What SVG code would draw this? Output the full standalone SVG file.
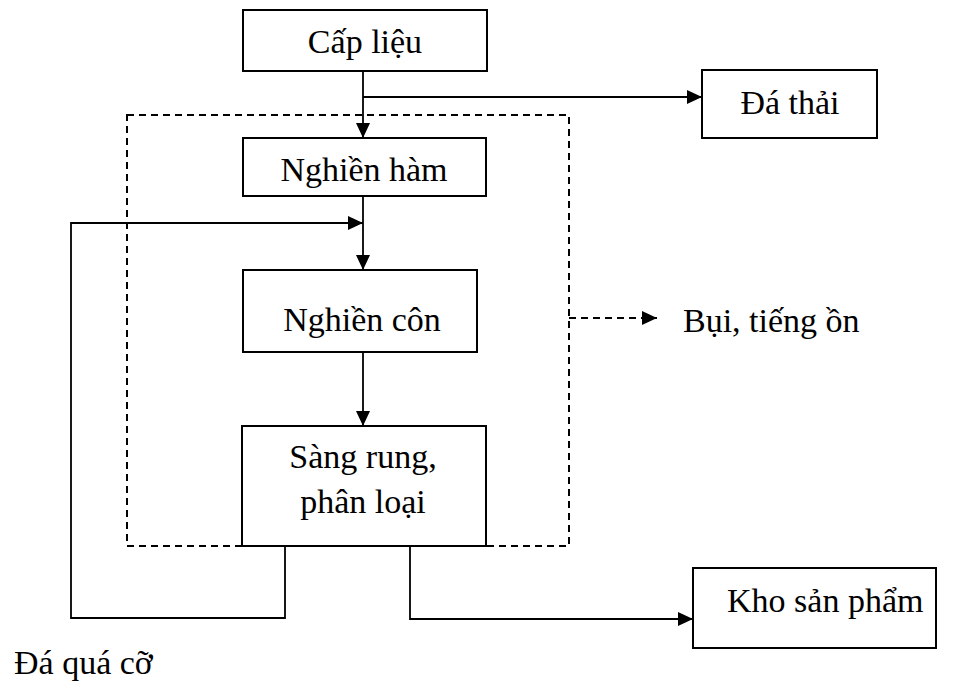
<svg xmlns="http://www.w3.org/2000/svg" width="953" height="681" viewBox="0 0 953 681">
<style>
.box{fill:#fff;stroke:#000;stroke-width:2}
.t{font-family:"Liberation Serif","Times New Roman",serif;font-size:34px;fill:#000}
.c{text-anchor:middle}
.ln{fill:none;stroke:#000;stroke-width:1.8}
.dash{fill:none;stroke:#000;stroke-width:2;stroke-dasharray:7 5}
</style>
<defs>
<marker id="ah" markerUnits="userSpaceOnUse" markerWidth="16" markerHeight="14" refX="15" refY="7" orient="auto">
<path d="M0,0 L15,7 L0,14 Z" fill="#000"/>
</marker>
</defs>
<g id="boundary">
<rect class="dash" x="127" y="115" width="442" height="431"/>
</g>
<g id="connectors">
<line class="ln" x1="363" y1="71" x2="363" y2="138" marker-end="url(#ah)"/>
<polyline class="ln" points="363,97 702,97" marker-end="url(#ah)"/>
<line class="ln" x1="363" y1="196" x2="363" y2="270" marker-end="url(#ah)"/>
<polyline class="ln" points="285,546 285,618 71,618 71,223 363,223" marker-end="url(#ah)"/>
<line class="ln" x1="363" y1="352" x2="363" y2="426" marker-end="url(#ah)"/>
<polyline class="ln" points="410,546 410,619 693,619" marker-end="url(#ah)"/>
<line class="dash" x1="569" y1="318" x2="657" y2="318" stroke-width="1.5" stroke-dasharray="6 5" marker-end="url(#ah)"/>
</g>
<g id="cap-lieu">
<rect class="box" x="243" y="10" width="244" height="61"/>
<text class="t c" x="365" y="53">Cấp liệu</text>
</g>
<g id="da-thai">
<rect class="box" x="702" y="70" width="175" height="68"/>
<text class="t c" x="790" y="114">Đá thải</text>
</g>
<g id="nghien-ham">
<rect class="box" x="243" y="138" width="243" height="58"/>
<text class="t c" x="364" y="181">Nghiền hàm</text>
</g>
<g id="nghien-con">
<rect class="box" x="243" y="270" width="234" height="82"/>
<text class="t c" x="362" y="331">Nghiền côn</text>
</g>
<g id="sang-rung">
<rect class="box" x="242" y="426" width="244" height="120"/>
<text class="t c" x="363" y="468">Sàng rung,</text>
<text class="t c" x="363" y="513">phân loại</text>
</g>
<g id="kho-san-pham">
<rect class="box" x="693" y="568" width="243" height="80"/>
<text class="t" x="727" y="612">Kho sản phẩm</text>
</g>
<g id="labels">
<text class="t" x="683" y="332">Bụi, tiếng ồn</text>
<text class="t" x="14" y="674">Đá quá cỡ</text>
</g>
</svg>
